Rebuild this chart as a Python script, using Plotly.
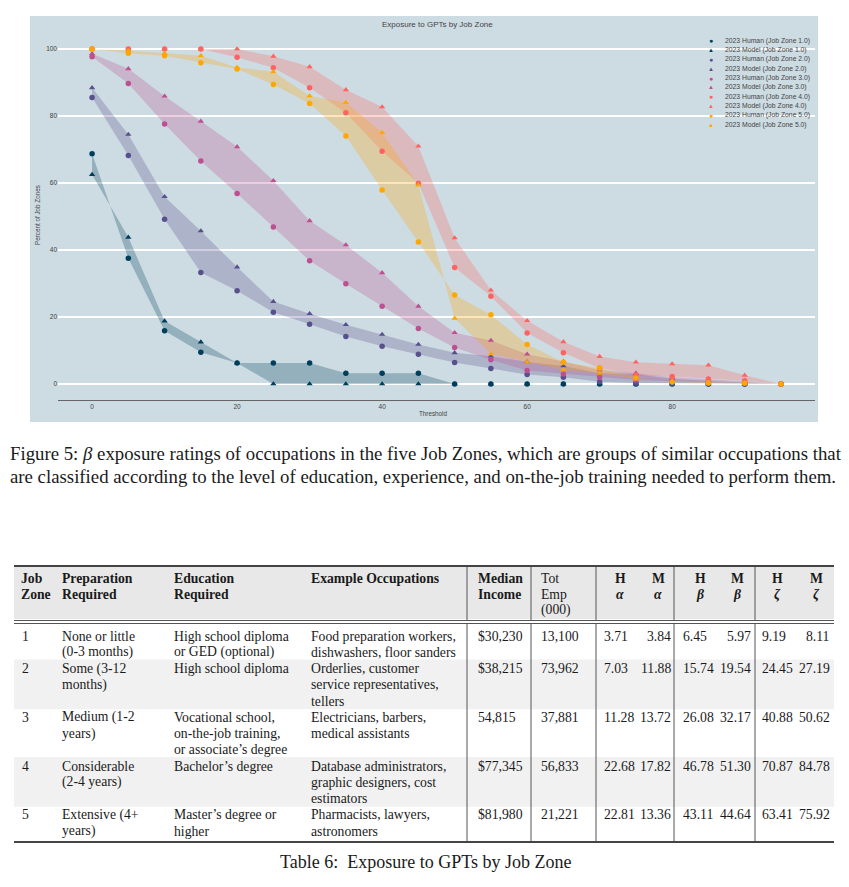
import plotly.graph_objects as go

# ---------------- chart data ----------------
thresholds = [0, 5, 10, 15, 20, 25, 30, 35, 40, 45, 50, 55, 60, 65, 70, 75, 80, 85, 90, 95]

zone1_human = [68.7, 37.5, 15.9, 9.5, 6.3, 6.3, 6.3, 3.2, 3.2, 3.2, 0, 0, 0, 0, 0, 0, 0, 0, 0, 0]
zone1_model = [62.5, 43.8, 18.8, 12.5, 6.3, 0, 0, 0, 0, 0, 0, 0, 0, 0, 0, 0, 0, 0, 0, 0]
zone2_human = [85.5, 68.2, 49.2, 33.3, 27.8, 21.4, 17.8, 14.2, 11.3, 8.9, 6.4, 4.6, 2.8, 2.0, 0.7, 0.3, 0.2, 0, 0, 0]
zone2_model = [88.4, 74.5, 55.9, 45.7, 34.9, 24.6, 21.0, 17.7, 14.8, 11.8, 9.3, 8.3, 6.6, 5.4, 3.2, 3.0, 1.5, 1.0, 0.4, 0]
zone3_human = [97.7, 89.7, 77.6, 66.6, 56.9, 46.9, 36.8, 29.9, 23.2, 16.6, 10.9, 7.2, 4.0, 3.0, 2.0, 1.2, 0.8, 0.5, 0.3, 0]
zone3_model = [98.6, 94.1, 85.9, 78.4, 70.8, 60.7, 48.7, 41.5, 33.2, 23.2, 15.3, 13.0, 8.9, 6.7, 4.2, 3.2, 2.0, 1.5, 0.8, 0]
zone4_human = [100, 100, 100, 100, 97.5, 94.4, 88.4, 81.0, 69.5, 59.9, 34.8, 26.2, 15.2, 9.3, 4.7, 2.7, 2.2, 1.5, 1.0, 0]
zone4_model = [100, 100, 100, 100, 100, 97.8, 94.7, 87.8, 82.7, 71.0, 43.6, 28.0, 18.9, 12.6, 8.2, 6.5, 6.0, 5.6, 2.6, 0]
zone5_human = [100, 98.7, 98.0, 95.9, 94.0, 89.4, 83.7, 74.0, 57.9, 42.4, 26.6, 20.7, 11.8, 6.5, 4.8, 1.8, 0.6, 0.3, 0.2, 0]
zone5_model = [100, 99.5, 98.7, 98.0, 94.5, 93.2, 86.0, 84.0, 75.0, 59.4, 19.6, 9.0, 6.5, 4.2, 3.2, 1.5, 0.8, 0.5, 0.3, 0]

zone_labels = ["1.0", "2.0", "3.0", "4.0", "5.0"]
human_series = [zone1_human, zone2_human, zone3_human, zone4_human, zone5_human]
model_series = [zone1_model, zone2_model, zone3_model, zone4_model, zone5_model]

x_ticks = [0, 20, 40, 60, 80]
y_ticks = [0, 20, 40, 60, 80, 100]

# ---------------- table data ----------------
job_zones = ["1", "2", "3", "4", "5"]
preparation = ["None or little\n(0-3 months)", "Some (3-12\nmonths)", "Medium (1-2\nyears)",
               "Considerable\n(2-4 years)", "Extensive (4+\nyears)"]
education = ["High school diploma\nor GED (optional)", "High school diploma",
             "Vocational school,\non-the-job training,\nor associate\u2019s degree",
             "Bachelor\u2019s degree", "Master\u2019s degree or\nhigher"]
examples = ["Food preparation workers,\ndishwashers, floor sanders",
            "Orderlies, customer\nservice representatives,\ntellers",
            "Electricians, barbers,\nmedical assistants",
            "Database administrators,\ngraphic designers, cost\nestimators",
            "Pharmacists, lawyers,\nastronomers"]
median_income = ["$30,230", "$38,215", "54,815", "$77,345", "$81,980"]
tot_emp = ["13,100", "73,962", "37,881", "56,833", "21,221"]
h_alpha = ["3.71", "7.03", "11.28", "22.68", "22.81"]
m_alpha = ["3.84", "11.88", "13.72", "17.82", "13.36"]
h_beta = ["6.45", "15.74", "26.08", "46.78", "43.11"]
m_beta = ["5.97", "19.54", "32.17", "51.30", "44.64"]
h_zeta = ["9.19", "24.45", "40.88", "70.87", "63.41"]
m_zeta = ["8.11", "27.19", "50.62", "84.78", "75.92"]

fig_caption = ["Figure 5: <i>\u03b2</i> exposure ratings of occupations in the five Job Zones, which are groups of similar occupations that",
               "are classified according to the level of education, experience, and on-the-job training needed to perform them."]
table_caption = "Table 6:  Exposure to GPTs by Job Zone"

# ---------------- styling ----------------
W, H = 849, 887
def px(x): return x / W
def py(y): return 1 - y / H

colors = ["#003f5c", "#58508d", "#bc5090", "#ff6361", "#ffa600"]
def rgba(hexc, a):
    h = hexc.lstrip("#")
    return "rgba(%d,%d,%d,%.2f)" % (int(h[0:2], 16), int(h[2:4], 16), int(h[4:6], 16), a)

BG = "#cddbe2"
SANS = "Liberation Sans, Arial, sans-serif"
SERIF = "Liberation Serif, Times New Roman, serif"
TXT = "#1a1a1a"

fig = go.Figure()

# bands
for i in range(5):
    fig.add_trace(go.Scatter(
        x=thresholds + thresholds[::-1],
        y=human_series[i] + model_series[i][::-1],
        fill="toself", fillcolor=rgba(colors[i], 0.28),
        mode="lines", line=dict(width=0), hoverinfo="skip", showlegend=False))
# markers
for i in range(5):
    fig.add_trace(go.Scatter(
        x=thresholds, y=human_series[i], mode="markers",
        name="2023 Human (Job Zone %s)" % zone_labels[i],
        marker=dict(symbol="circle", size=5.5, color=colors[i]), showlegend=False))
    fig.add_trace(go.Scatter(
        x=thresholds, y=model_series[i], mode="markers",
        name="2023 Model (Job Zone %s)" % zone_labels[i],
        marker=dict(symbol="triangle-up", size=5.5, color=colors[i]), showlegend=False))

shapes = []
annotations = []

def text(x, y, s, size, anchor="left", family=SERIF, color=TXT, angle=0):
    annotations.append(dict(x=px(x), y=py(y), xref="paper", yref="paper", text=s,
                            showarrow=False, xanchor=anchor, yanchor="middle",
                            font=dict(family=family, size=size, color=color),
                            textangle=angle, borderpad=0))

def rect(x0, y0, x1, y1, fill, layer="below"):
    shapes.append(dict(type="rect", xref="paper", yref="paper", x0=px(x0), x1=px(x1),
                       y0=py(y1), y1=py(y0), fillcolor=fill, line=dict(width=0), layer=layer))

def hline(x0, x1, y, w, color="#444"):
    shapes.append(dict(type="line", xref="paper", yref="paper", x0=px(x0), x1=px(x1),
                       y0=py(y), y1=py(y), line=dict(color=color, width=w)))

def vline(x, y0, y1, w=1, color="#555"):
    shapes.append(dict(type="line", xref="paper", yref="paper", x0=px(x), x1=px(x),
                       y0=py(y0), y1=py(y1), line=dict(color=color, width=w)))

# chart background
rect(30, 16, 818, 422, BG)

# chart title / axis titles
text(437, 24, "Exposure to GPTs by Job Zone", 8, "center", SANS, "#444")
text(433, 413, "Threshold", 6.3, "center", SANS, "#444")
text(37, 215, "Percent of Job Zones", 6.3, "center", SANS, "#444", -90)

# manual legend
ly0, lpitch = 40.7, 9.33
k = 0
for i in range(5):
    for kind, sym, ssz in (("Human", "\u25cf", 7), ("Model", "\u25b2", 6)):
        y = ly0 + k * lpitch
        text(711, y, sym, ssz, "center", SANS, colors[i])
        text(724, y, "2023 %s (Job Zone %s)" % (kind, zone_labels[i]), 6.8, "left", SANS, "#444")
        k += 1

# figure caption
text(9, 453, fig_caption[0], 18.8, "left")
text(9, 476, fig_caption[1], 18.8, "left")

# ---------------- table ----------------
TS = 13.7
pitch = 16.25
first_line = 636
row_lines = []
for r in range(5):
    n = max(len(c[r].split("\n")) for c in (preparation, education, examples))
    row_lines.append(n)

# header background
rect(14, 567, 834, 619, "#e8e8e8")
# row bands
y = first_line
for r in range(5):
    top = y - 9
    bot = top + row_lines[r] * pitch
    if r % 2 == 1:
        rect(14, top, 834, bot + 1, "#f1f1f1")
    y += row_lines[r] * pitch

hline(14, 834, 566, 2.2, "#444")
hline(14, 834, 620.5, 1, "#555")
hline(14, 834, 623.5, 1, "#555")
hline(14, 834, 842, 2.2, "#444")
for vx in (467, 531, 596, 674, 755):
    vline(vx, 567, 620)
    vline(vx, 624, 841)

# header
hy = [578, 594, 610]
text(20, hy[0], "<b>Job</b>", TS)
text(20, hy[1], "<b>Zone</b>", TS)
text(61, hy[0], "<b>Preparation</b>", TS)
text(61, hy[1], "<b>Required</b>", TS)
text(173, hy[0], "<b>Education</b>", TS)
text(173, hy[1], "<b>Required</b>", TS)
text(310, hy[0], "<b>Example Occupations</b>", TS)
text(477, hy[0], "<b>Median</b>", TS)
text(477, hy[1], "<b>Income</b>", TS)
text(540, hy[0], "Tot", TS)
text(540, hy[1], "Emp", TS)
text(540, hy[2], "(000)", TS)
for cx, who, greek in ((620, "H", "\u03b1"), (658, "M", "\u03b1"), (700, "H", "\u03b2"),
                       (737, "M", "\u03b2"), (777, "H", "\u03b6"), (816, "M", "\u03b6")):
    text(cx, hy[0], "<b>%s</b>" % who, TS, "center")
    text(cx, hy[1], "<b><i>%s</i></b>" % greek, TS, "center")

# body
y = first_line
for r in range(5):
    text(21, y, job_zones[r], TS)
    for col, cx in ((preparation, 61), (education, 173), (examples, 310)):
        for j, line in enumerate(col[r].split("\n")):
            text(cx, y + j * pitch, line, TS)
    text(477, y, median_income[r], TS)
    text(540, y, tot_emp[r], TS)
    text(603, y, h_alpha[r], TS, "left")
    text(672, y, m_alpha[r], TS, "right")
    text(682, y, h_beta[r], TS, "left")
    text(752, y, m_beta[r], TS, "right")
    text(761, y, h_zeta[r], TS, "left")
    text(831, y, m_zeta[r], TS, "right")
    y += row_lines[r] * pitch

text(425, 862, table_caption, 18, "center")

fig.update_layout(
    width=W, height=H, margin=dict(l=0, r=0, t=0, b=0),
    paper_bgcolor="white", plot_bgcolor="rgba(0,0,0,0)",
    shapes=shapes, annotations=annotations, showlegend=False,
    xaxis=dict(domain=[px(58), px(815)], range=[-4.7, 99.7], tickvals=x_ticks,
               showgrid=False, zeroline=False, showline=True, linecolor="#666", linewidth=1,
               ticks="", tickfont=dict(family=SANS, size=6.5, color="#444")),
    yaxis=dict(domain=[py(400), py(30)], range=[-4.78, 105.67], tickvals=y_ticks,
               showgrid=True, gridcolor="white", gridwidth=1.5, zeroline=False,
               showline=False, ticks="", tickfont=dict(family=SANS, size=6.5, color="#444")),
)

fig.write_html("out.html", config={"displayModeBar": False},
               post_script="document.body.style.margin='0';")
